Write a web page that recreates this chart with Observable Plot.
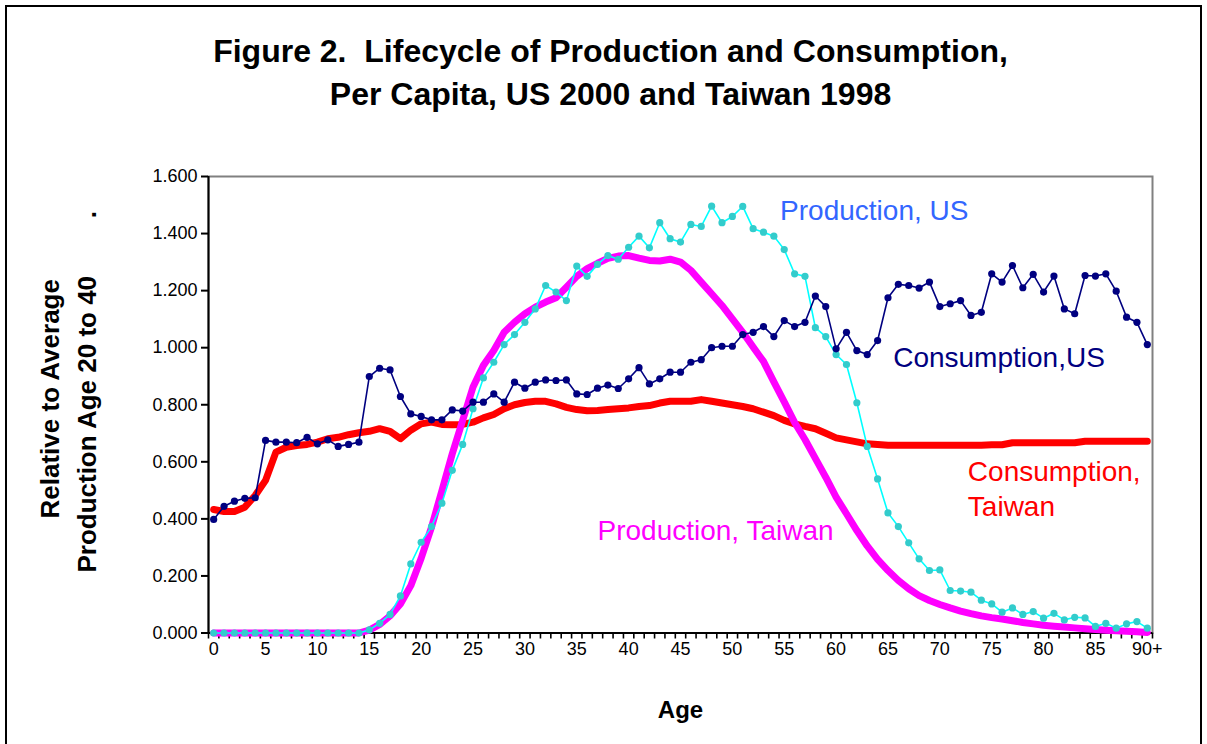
<!DOCTYPE html>
<html><head><meta charset="utf-8">
<script src="https://cdn.jsdelivr.net/npm/d3@7"></script>
<script src="https://cdn.jsdelivr.net/npm/@observablehq/plot@0.6"></script>
<style>
html,body{margin:0;padding:0;background:#fff;}
#wrap{position:relative;width:1207px;height:744px;overflow:hidden;}
#border{position:absolute;left:5px;top:5px;width:1193px;height:800px;border:2px solid #000;}
#chart{position:absolute;left:0;top:0;}
#chart text{white-space:pre;}
</style></head><body>
<div id="wrap"><div id="border"></div><div id="chart"></div></div>
<script>
const ages = d3.range(0, 91);

const consUS = [0.398,0.444,0.462,0.472,0.474,0.675,0.669,0.669,0.667,0.686,
0.663,0.677,0.654,0.661,0.669,0.899,0.928,0.922,0.829,0.768,
0.759,0.747,0.747,0.782,0.778,0.809,0.809,0.838,0.809,0.879,
0.858,0.879,0.887,0.885,0.887,0.838,0.836,0.858,0.869,0.857,
0.891,0.930,0.873,0.891,0.914,0.914,0.949,0.958,1.000,1.005,
1.005,1.046,1.054,1.074,1.039,1.095,1.074,1.089,1.181,1.144,
0.996,1.054,0.990,0.976,1.025,1.175,1.222,1.218,1.209,1.230,
1.144,1.154,1.165,1.113,1.124,1.259,1.230,1.288,1.210,1.257,
1.195,1.251,1.136,1.119,1.253,1.251,1.259,1.198,1.107,1.089,
1.011];

const prodUS = [0,0,0,0,0,0,0,0,0,0,
0,0,0,0,0,0.011,0.034,0.065,0.130,0.242,
0.318,0.373,0.455,0.570,0.661,0.786,0.894,0.949,1.011,1.046,
1.089,1.136,1.218,1.195,1.165,1.286,1.250,1.292,1.323,1.310,
1.352,1.391,1.350,1.438,1.382,1.370,1.432,1.425,1.496,1.438,
1.460,1.495,1.417,1.405,1.391,1.344,1.259,1.250,1.070,1.039,
0.976,0.941,0.807,0.654,0.540,0.421,0.373,0.316,0.260,0.219,
0.221,0.149,0.147,0.143,0.115,0.102,0.073,0.088,0.065,0.075,
0.052,0.069,0.046,0.055,0.053,0.023,0.034,0.017,0.032,0.040,
0.017];

const consTW = [0.433,0.426,0.426,0.441,0.482,0.535,0.634,0.651,0.657,0.661,
0.669,0.681,0.686,0.695,0.702,0.707,0.716,0.707,0.681,0.711,
0.733,0.739,0.731,0.730,0.731,0.739,0.754,0.766,0.786,0.800,
0.808,0.812,0.812,0.803,0.791,0.783,0.779,0.780,0.783,0.786,
0.789,0.794,0.797,0.806,0.812,0.812,0.812,0.818,0.812,0.806,
0.800,0.794,0.786,0.774,0.762,0.745,0.733,0.724,0.716,0.700,
0.684,0.677,0.670,0.663,0.661,0.658,0.658,0.658,0.658,0.658,
0.658,0.658,0.658,0.658,0.658,0.660,0.660,0.667,0.667,0.667,
0.667,0.667,0.667,0.667,0.672,0.672,0.672,0.672,0.672,0.672,
0.672];

const prodTW = [0,0,0,0,0,0,0,0,0,0,
0,0,0,0,0,0.010,0.030,0.060,0.102,0.166,
0.262,0.371,0.499,0.628,0.745,0.862,0.938,0.990,1.054,1.089,
1.119,1.142,1.160,1.175,1.212,1.250,1.277,1.296,1.313,1.321,
1.323,1.314,1.306,1.304,1.310,1.300,1.271,1.230,1.189,1.148,
1.101,1.054,1.002,0.952,0.880,0.810,0.738,0.678,0.612,0.546,
0.476,0.418,0.359,0.305,0.258,0.219,0.184,0.155,0.131,0.114,
0.100,0.088,0.077,0.068,0.060,0.054,0.049,0.043,0.037,0.032,
0.027,0.024,0.021,0.018,0.015,0.012,0.010,0.008,0.006,0.004,
0.002];

const yTicks = [0,0.2,0.4,0.6,0.8,1.0,1.2,1.4,1.6];
const xTickValues = [0,5,10,15,20,25,30,35,40,45,50,55,60,65,70,75,80,85,90];
const xTickLabels = ["0","5","10","15","20","25","30","35","40","45","50","55","60","65","70","75","80","85","90+"];
const categoryBounds = d3.range(-0.5, 91, 1);

const titleText = "Figure 2.  Lifecycle of Production and Consumption,\nPer Capita, US 2000 and Taiwan 1998";
const yTitleLine1 = "Relative to Average";
const yTitleLine2 = "Production Age 20 to 40        .";
const xTitle = "Age";

const labelProdUS = [{age: 54.6, value: 1.48, text: "Production, US"}];
const labelConsUS = [{age: 65.5, value: 0.962, text: "Consumption,US"}];
const labelConsTW = [{age: 72.7, value: 0.51, text: "Consumption,\nTaiwan"}];
const labelProdTW = [{age: 37.0, value: 0.359, text: "Production, Taiwan"}];

const data = ages.map((a, i) => ({age: a, consUS: consUS[i], prodUS: prodUS[i], consTW: consTW[i], prodTW: prodTW[i]}));

const font = "'Liberation Sans', Arial, Helvetica, sans-serif";

const chart = Plot.plot({
  width: 1207,
  height: 744,
  marginLeft: 208,
  marginRight: 55,
  marginTop: 176,
  marginBottom: 111.5,
  style: {fontFamily: font, fontSize: "18px", color: "#000", background: "transparent", overflow: "visible"},
  x: {domain: [-0.5, 90.5]},
  y: {domain: [0, 1.6]},
  marks: [
    Plot.frame({stroke: "#808080", strokeWidth: 2}),
    Plot.axisY({ticks: yTicks, tickFormat: d3.format(".3f"), tickSize: 7, tickPadding: 4, fontSize: 18, strokeWidth: 2, label: null}),
    Plot.axisX({ticks: categoryBounds, tickFormat: () => "", tickSize: 6, strokeWidth: 1.6, label: null}),
    Plot.axisX({ticks: xTickValues, tickFormat: d => xTickLabels[xTickValues.indexOf(d)], tickSize: 0, tickPadding: 9, fontSize: 18, label: null}),
    Plot.ruleX([-0.5], {stroke: "#000", strokeWidth: 2}),
    Plot.ruleY([0], {stroke: "#000", strokeWidth: 2}),
    Plot.line(data, {x: "age", y: "consTW", stroke: "#FF0000", strokeWidth: 7, strokeLinejoin: "round"}),
    Plot.line(data, {x: "age", y: "prodTW", stroke: "#FF00FF", strokeWidth: 7, strokeLinejoin: "round"}),
    Plot.line(data, {x: "age", y: "prodUS", stroke: "#00FFFF", strokeWidth: 1.6}),
    Plot.dot(data, {x: "age", y: "prodUS", r: 3.6, fill: "#33CCCC"}),
    Plot.line(data, {x: "age", y: "consUS", stroke: "#000080", strokeWidth: 1.6}),
    Plot.dot(data, {x: "age", y: "consUS", r: 3.6, fill: "#000080"}),
    Plot.text(labelProdUS, {x: "age", y: "value", text: "text", fill: "#3366FF", textAnchor: "start", fontSize: 28}),
    Plot.text(labelConsUS, {x: "age", y: "value", text: "text", fill: "#000080", textAnchor: "start", fontSize: 28}),
    Plot.text(labelConsTW, {x: "age", y: "value", text: "text", fill: "#FF0000", textAnchor: "start", fontSize: 28, lineHeight: 1.25}),
    Plot.text(labelProdTW, {x: "age", y: "value", text: "text", fill: "#FF00FF", textAnchor: "start", fontSize: 28}),
    Plot.text([titleText], {frameAnchor: "top", textAnchor: "middle", lineAnchor: "middle", dx: -70, dy: -107, fontSize: 32, fontWeight: "bold", lineHeight: 1.34, fill: "#000"}),
    Plot.text([yTitleLine1], {frameAnchor: "left", textAnchor: "middle", lineAnchor: "middle", dx: -158, dy: -6, rotate: -90, fontSize: 26, fontWeight: "bold", fill: "#000"}),
    Plot.text([yTitleLine2], {frameAnchor: "left", textAnchor: "middle", lineAnchor: "middle", dx: -121, dy: -13, rotate: -90, fontSize: 26, fontWeight: "bold", fill: "#000"}),
    Plot.text([xTitle], {frameAnchor: "bottom", textAnchor: "middle", lineAnchor: "middle", dy: 77.5, fontSize: 24, fontWeight: "bold", fill: "#000"})
  ]
});
document.getElementById("chart").appendChild(chart);
</script>
</body></html>
